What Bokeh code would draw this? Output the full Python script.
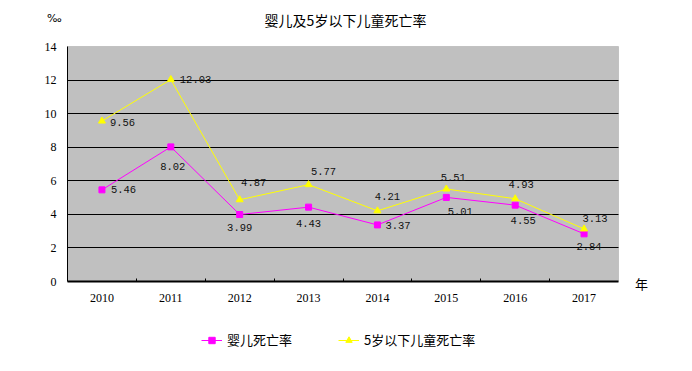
from bokeh.plotting import figure
from bokeh.models import (ColumnDataSource, Range1d, FixedTicker, Label, Legend, LegendItem,
                          LinearAxis, BoxAnnotation)
from bokeh.core.properties import value
from bokeh.embed import file_html
from bokeh.resources import INLINE

# ---- data ----
years = [2010, 2011, 2012, 2013, 2014, 2015, 2016, 2017]
infant = [5.46, 8.02, 3.99, 4.43, 3.37, 5.01, 4.55, 2.84]
under5 = [9.56, 12.03, 4.87, 5.77, 4.21, 5.51, 4.93, 3.13]
y_ticks = [0, 2, 4, 6, 8, 10, 12, 14]
title_text = "婴儿及5岁以下儿童死亡率"
name_infant = "婴儿死亡率"
name_under5 = "5岁以下儿童死亡率"
unit_y = "‰"
unit_x = "年"

# ---- label placement (style) ----
inf_align = ["left", "center", "center", "center", "left", "center", "center", "center"]
inf_dx = [9, 2, 0, 0, 8, 14, 8, 5]
inf_dy = [0, 20, 13, 16, 1, 14, 15, 13]
u5_align = ["left", "left", "center", "center", "center", "center", "center", "center"]
u5_dx = [8, 9, 14, 15, 10, 7, 6, 11]
u5_dy = [1, 0, -17, -13, -14, -12, -14, -10]

MAG = "#FF00FF"
YEL = "#FFFF00"

# ---- layout (canvas pixels) ----
W, H = 684, 371
PL, PR, PT, PB = 67, 618, 46, 281          # plot area edges
X0, X1 = years[0] - 0.5, years[-1] + 0.5
Y0, Y1 = y_ticks[0], y_ticks[-1]
kx = (PR - PL) / (X1 - X0)
ky = (PB - PT) / (Y1 - Y0)


def px(x, y):
    """canvas pixel -> data coordinates"""
    return X0 + (x - PL) / kx, Y1 + (PT - y) / ky


p = figure(width=W, height=H, output_backend="svg", toolbar_location=None,
           x_axis_location=None, y_axis_location=None,
           x_range=Range1d(X0 - PL / kx, X1 + (W - PR) / kx),
           y_range=Range1d(Y0 - (H - PB) / ky, Y1 + PT / ky),
           min_border=0, background_fill_color="white", border_fill_color="white",
           outline_line_color=None)

# plot area
p.add_layout(BoxAnnotation(left=X0, right=X1, bottom=Y0, top=Y1, fill_color="#C0C0C0",
                           fill_alpha=1, line_color="#808080", line_width=1, level="image"))

# horizontal grid lines (inward ticks of a label-less axis)
grid_axis = LinearAxis(fixed_location=X0, bounds=(Y0, Y1), ticker=FixedTicker(ticks=y_ticks[1:-1]),
                       major_tick_in=int(PR - PL), major_tick_out=0, major_tick_line_color="black",
                       minor_tick_line_color=None, axis_line_color=None,
                       major_label_overrides={t: "" for t in y_ticks[1:-1]}, level="underlay")
p.add_layout(grid_axis, "left")

yaxis = LinearAxis(fixed_location=X0, bounds=(Y0, Y1), ticker=FixedTicker(ticks=y_ticks),
                   major_tick_in=0, major_tick_out=0, minor_tick_line_color=None,
                   axis_line_color="black", major_label_standoff=11,
                   major_label_text_font="Liberation Serif", major_label_text_font_size="12px",
                   major_label_text_color="black")
p.add_layout(yaxis, "left")

xaxis = LinearAxis(fixed_location=Y0, bounds=(X0, X1),
                   ticker=FixedTicker(ticks=years, minor_ticks=[y + 0.5 for y in years[:-1]]),
                   major_tick_line_color=None, major_tick_in=0, major_tick_out=0,
                   minor_tick_in=3, minor_tick_out=0, minor_tick_line_color="black",
                   axis_line_color="black", axis_line_width=2, major_label_standoff=12,
                   major_label_text_font="Liberation Serif", major_label_text_font_size="12px",
                   major_label_text_color="black")
p.add_layout(xaxis, "below")
p.xgrid.visible = False
p.ygrid.visible = False

# series
src_i = ColumnDataSource(dict(x=years, y=infant, t=[f"{v:.2f}" for v in infant],
                              a=inf_align, dx=inf_dx, dy=inf_dy))
src_u = ColumnDataSource(dict(x=years, y=under5, t=[f"{v:.2f}" for v in under5],
                              a=u5_align, dx=u5_dx, dy=u5_dy))

li = p.line("x", "y", source=src_i, line_color=MAG, line_width=1)
mi = p.scatter("x", "y", source=src_i, marker="square", size=6, fill_color=MAG, line_color=MAG)
lu = p.line("x", "y", source=src_u, line_color=YEL, line_width=1)
mu = p.scatter("x", "y", source=src_u, marker="triangle", size=7, fill_color=YEL, line_color=YEL)

for s in (src_i, src_u):
    p.text("x", "y", text="t", source=s, text_align="a", text_baseline="middle",
           x_offset="dx", y_offset="dy", text_font=value("Liberation Mono"),
           text_font_size="10.5px", text_color="#111111")

# title and unit texts
tx, ty = px(345, 19)
p.add_layout(Label(x=tx, y=ty, text=title_text, text_align="center", text_baseline="middle",
                   text_font="Noto Sans CJK SC", text_font_size="14px", text_color="black"))
ux, uy = px(641, 283)
p.add_layout(Label(x=ux, y=uy, text=unit_x, text_align="center", text_baseline="middle",
                   text_font="Noto Sans CJK SC", text_font_size="13px", text_color="black"))
vx, vy = px(54, 18)
p.add_layout(Label(x=vx, y=vy, text=unit_y, text_align="center", text_baseline="middle",
                   text_font="DejaVu Sans", text_font_size="11px", text_color="black"))

legend = Legend(items=[LegendItem(label=name_infant, renderers=[li, mi]),
                       LegendItem(label=name_under5, renderers=[lu, mu])],
                orientation="horizontal", location=(201, 22),
                padding=0, margin=0, spacing=46, glyph_width=21, glyph_height=16,
                label_standoff=5, label_text_font="Noto Sans CJK SC",
                label_text_font_size="13px", label_text_color="black",
                border_line_color=None, background_fill_alpha=0)
p.add_layout(legend, "center")

open("out.html", "w").write(file_html(p, INLINE))
